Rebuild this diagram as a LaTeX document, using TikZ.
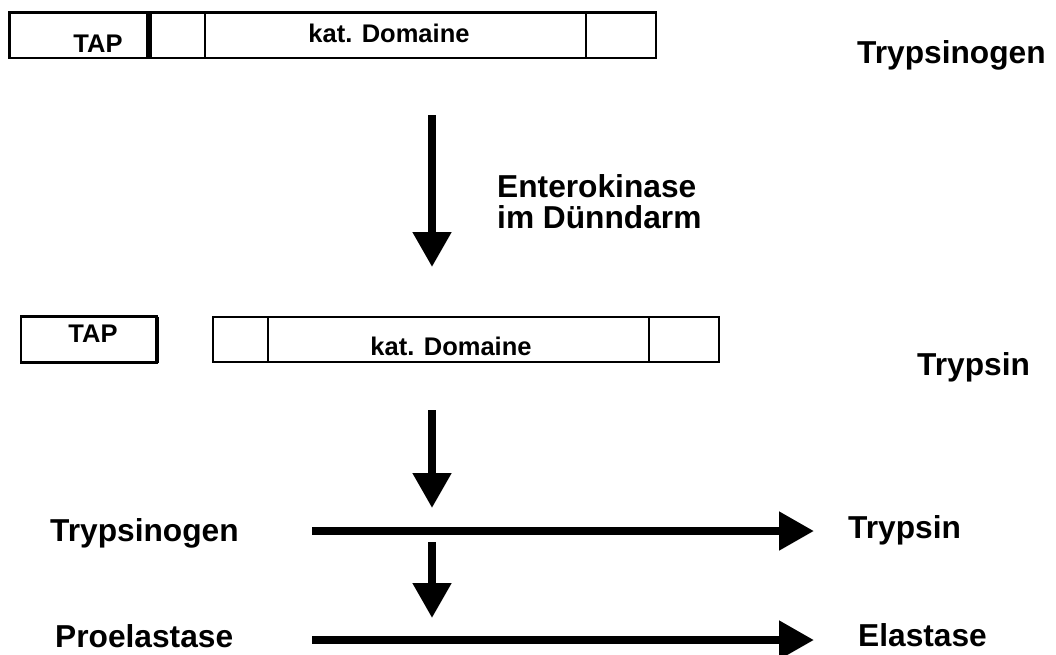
\documentclass[tikz,border=0pt]{standalone}
\usepackage{fontspec}
\setmainfont{Liberation Sans}
\usetikzlibrary{arrows.meta}

\begin{document}
\begin{tikzpicture}[x=1pt, y=-1pt,
    bigtxt/.style={font=\fontsize{31.7}{34}\selectfont\bfseries, inner sep=0pt},
    boxtxt/.style={font=\fontsize{25.5}{28}\selectfont\bfseries, inner sep=0pt},
    segline/.style={line width=2.5pt},
    flow/.style={line width=8pt, -{Triangle[length=35pt, width=37pt]}}]
  \useasboundingbox (0,0) rectangle (1056,654);

  % Trypsinogen bar — TAP | linker | kat. Domaine | end
  \draw[segline] (9.5,12.5) rectangle (656,58);
  \draw[line width=6pt] (148.5,12.5) -- (148.5,58);
  \foreach \x in {205, 586} {
    \draw[segline] (\x,12.5) -- (\x,58);
  }
  \node[boxtxt, anchor=base] (tap1) at (98,52) {TAP};
  \node[boxtxt, anchor=base] (kat1) at (389,42) {kat. Domaine};
  \node[bigtxt, anchor=base west] (trypsinogen1) at (857,63) {Trypsinogen};

  % activation by enterokinase
  \coordinate (a1s) at (432,115);
  \coordinate (a1e) at (432,267);
  \draw[flow] (a1s) -- (a1e);
  \node[bigtxt, anchor=base west] (ek1) at (497,197) {Enterokinase};
  \node[bigtxt, anchor=base west] (ek2) at (497,228) {im Dünndarm};

  % Trypsin — TAP split off
  \draw[segline] (21,316.5) rectangle (157,362.5);
  \draw[line width=4pt] (157,316.5) -- (157,362.5);
  \node[boxtxt, anchor=base] (tap2) at (93,342) {TAP};
  \draw[segline] (213,317) rectangle (719,362);
  \foreach \x in {268, 649} {
    \draw[segline] (\x,317) -- (\x,362);
  }
  \node[boxtxt, anchor=base] (kat2) at (451,355) {kat. Domaine};
  \node[bigtxt, anchor=base west] (trypsin1) at (917,375) {Trypsin};

  % trypsin activates further zymogens
  \coordinate (a2s) at (432,410);
  \coordinate (a2e) at (432,508);
  \draw[flow] (a2s) -- (a2e);
  \node[bigtxt, anchor=base west] (trypsinogen2) at (50,541) {Trypsinogen};
  \coordinate (h1s) at (312,531);
  \coordinate (h1e) at (814,531);
  \draw[flow] (h1s) -- (h1e);
  \node[bigtxt, anchor=base west] (trypsin2) at (848,538) {Trypsin};

  \coordinate (a3s) at (432,542);
  \coordinate (a3e) at (432,618);
  \draw[flow] (a3s) -- (a3e);
  \node[bigtxt, anchor=base west] (proelastase) at (55,647) {Proelastase};
  \coordinate (h2s) at (312,640);
  \coordinate (h2e) at (814,640);
  \draw[flow] (h2s) -- (h2e);
  \node[bigtxt, anchor=base west] (elastase) at (858,646) {Elastase};
\end{tikzpicture}
\end{document}
